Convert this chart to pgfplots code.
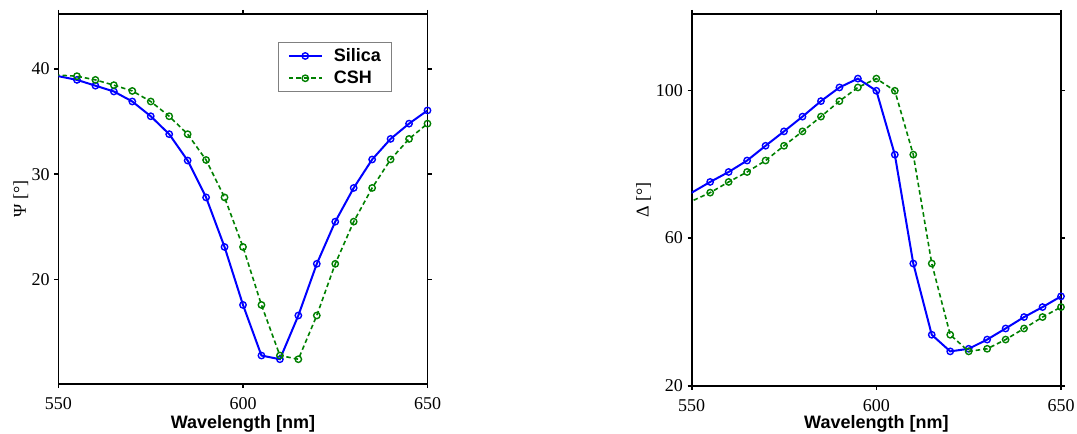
\documentclass[border=0pt]{standalone}
\usepackage{fontspec}
\setmainfont{Liberation Serif}
\newfontfamily\lsans{Liberation Sans}
\usepackage{pgfplots}
\usepackage{pgfplotstable}
\pgfplotsset{compat=1.18}
\definecolor{mblue}{RGB}{0,0,255}
\definecolor{mgreen}{RGB}{0,128,0}

\pgfplotstableread{
x y
545 39.65
555 38.95
560 38.4
565 37.85
570 36.9
575 35.5
580 33.8
585 31.3
590 27.8
595 23.1
600 17.6
605 12.8
610 12.45
615 16.6
620 21.5
625 25.5
630 28.7
635 31.4
640 33.35
645 34.8
650 36.05
}\psisil
\pgfplotstableread{
x y
545 39.5
555 39.3
560 38.95
565 38.45
570 37.9
575 36.9
580 35.5
585 33.8
590 31.35
595 27.8
600 23.1
605 17.6
610 12.8
615 12.45
620 16.6
625 21.5
630 25.5
635 28.7
640 31.4
645 33.35
650 34.8
}\psicsh
\pgfplotstableread{
x y
545 69.4
555 75.2
560 77.9
565 81.0
570 85.0
575 88.9
580 92.9
585 97.1
590 100.8
595 103.2
600 99.9
605 82.6
610 53.1
615 33.8
620 29.3
625 30.0
630 32.5
635 35.5
640 38.6
645 41.3
650 44.2
}\delsil
\pgfplotstableread{
x y
545 67.7
555 72.3
560 75.2
565 77.9
570 81.0
575 85.0
580 88.9
585 92.9
590 97.1
595 100.8
600 103.2
605 99.9
610 82.6
615 53.1
620 33.8
625 29.3
630 30.0
635 32.5
640 35.5
645 38.6
650 41.3
}\delcsh

\pgfplotsset{
  myax/.style={
    scale only axis, clip mode=individual,
    line width=1.7pt,
    xmin=550, xmax=650, xtick={550,600,650},
    tick align=outside, major tick length=4pt,
    tick style={black, line width=1.7pt},
    /pgf/number format/assume math mode=true,
    /pgf/number format/set thousands separator={},
    tick label style={font=\fontsize{18}{20}\selectfont},
    xticklabel style={anchor=north, inner sep=0pt, yshift=-9pt},
    yticklabel style={anchor=east, inner sep=0pt, xshift=-4pt},
    xlabel={\lsans\bfseries Wavelength [nm]},
    label style={font=\fontsize{18}{20}\selectfont},
  },
  silstyle/.style={mblue, line width=2pt, mark=o, mark size=3.2pt,
    mark options={solid, line width=1.4pt}, mark repeat=1, mark phase=1},
  cshstyle/.style={mgreen, line width=1.6pt, dash pattern=on 4.5pt off 3pt,
    mark=o, mark size=3.2pt, mark options={solid, line width=1.4pt},
    mark repeat=1, mark phase=1},
}

\begin{document}
\begin{tikzpicture}[x=1pt,y=1pt]
\useasboundingbox (0,0) rectangle (1077,434);
\begin{axis}[myax,
  at={(58.5pt,50pt)}, anchor=south west, width=369pt, height=370pt,
  ymin=10.1, ymax=45.2, ytick={20,30,40},
  ylabel={Ψ [°]},
  ylabel style={at={(axis description cs:-0.102,0.5)}, anchor=center},
  xlabel style={at={(axis description cs:0.5,-0.119)}, anchor=base},
  legend style={at={(0.5957,0.925)}, anchor=north west, draw=gray, line width=0.9pt,
    font=\lsans\bfseries\fontsize{18}{20}\selectfont, inner xsep=9pt, inner ysep=4.5pt,
    row sep=4pt, /tikz/every odd column/.append style={column sep=9pt}},
  legend cell align=left,
  legend image code/.code={\draw[#1, mark repeat=2, mark phase=2] plot coordinates {(0pt,0pt) (16.5pt,0pt) (33pt,0pt)};},
]
\addplot[silstyle] table {\psisil};
\addlegendentry{Silica}
\addplot[cshstyle] table {\psicsh};
\addlegendentry{CSH}
\end{axis}
\begin{axis}[myax,
  at={(691.7pt,48.3pt)}, anchor=south west, width=369.3pt, height=371.7pt,
  ymin=20, ymax=120.7, ytick={20,60,100},
  ylabel={Δ [°]},
  ylabel style={at={(axis description cs:-0.13,0.5)}, anchor=center},
  xlabel style={at={(axis description cs:0.5,-0.114)}, anchor=base},
]
\addplot[silstyle] table {\delsil};
\addplot[cshstyle] table {\delcsh};
\end{axis}
\end{tikzpicture}
\end{document}
